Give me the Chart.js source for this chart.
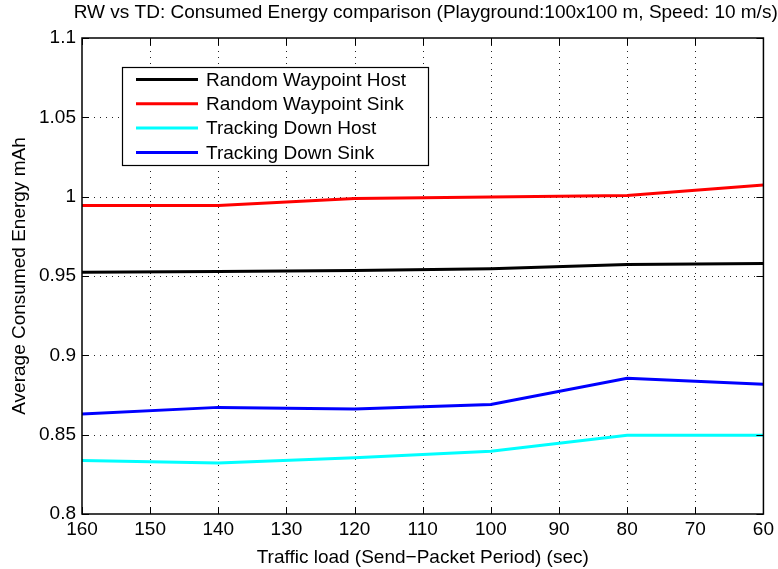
<!DOCTYPE html>
<html>
<head>
<meta charset="utf-8">
<script src="https://cdn.jsdelivr.net/npm/chart.js@4.4.1/dist/chart.umd.min.js"></script>
<style>
  html, body { margin: 0; padding: 0; background: #fff; }
  #wrap { width: 778px; height: 569px; position: relative; }
</style>
</head>
<body>
<div id="wrap"><canvas id="c" width="778" height="569"></canvas></div>
<script>
// ---- data ----
const periods = [160, 140, 120, 100, 80, 60];
const rwHost = [0.9524, 0.9528, 0.9535, 0.9545, 0.9573, 0.9578];
const rwSink = [0.9945, 0.9945, 0.9988, 0.9998, 1.0008, 1.0073];
const tdHost = [0.8337, 0.8322, 0.8355, 0.8396, 0.8496, 0.8496];
const tdSink = [0.8631, 0.8672, 0.8662, 0.8690, 0.8855, 0.8818];
const seriesNames = ['Random Waypoint Host', 'Random Waypoint Sink', 'Tracking Down Host', 'Tracking Down Sink'];
const xTicks = [160, 150, 140, 130, 120, 110, 100, 90, 80, 70, 60];
const yTicks = [0.8, 0.85, 0.9, 0.95, 1, 1.05, 1.1];
const yTickLabels = ['0.8', '0.85', '0.9', '0.95', '1', '1.05', '1.1'];
const titleText = 'RW vs TD: Consumed Energy comparison (Playground:100x100 m, Speed: 10 m/s)';
const xTitle = 'Traffic load (Send\u2212Packet Period) (sec)';
const yTitle = 'Average Consumed Energy mAh';

const FONT = '"Liberation Sans", Arial, Helvetica, sans-serif';
const FS = 19;
const colors = ['#000000', '#ff0000', '#00ffff', '#0000ff'];
const series = [rwHost, rwSink, tdHost, tdSink];

const toPts = arr => periods.map((p, i) => ({ x: p, y: arr[i] }));

const datasets = series.map((s, i) => ({
  label: seriesNames[i],
  data: toPts(s),
  borderColor: colors[i],
  backgroundColor: colors[i],
  borderWidth: 3,
  pointRadius: 0,
  tension: 0,
  fill: false
}));

const gridPlugin = {
  id: 'dottedGrid',
  beforeDatasetsDraw(chart) {
    const { ctx, chartArea: a, scales } = chart;
    ctx.save();
    ctx.strokeStyle = '#222';
    ctx.lineWidth = 1;
    ctx.setLineDash([1, 5]);
    ctx.beginPath();
    xTicks.forEach(v => {
      const x = Math.round(scales.x.getPixelForValue(v)) + 0.5;
      if (x <= a.left + 1 || x >= a.right - 1) return;
      ctx.moveTo(x, a.bottom); ctx.lineTo(x, a.top);
    });
    yTicks.forEach(v => {
      const y = Math.round(scales.y.getPixelForValue(v)) + 0.5;
      if (y <= a.top + 1 || y >= a.bottom - 1) return;
      ctx.moveTo(a.left, y); ctx.lineTo(a.right, y);
    });
    ctx.stroke();
    ctx.restore();
  }
};

const frame = {
  id: 'frame',
  afterDraw(chart) {
    const { ctx, chartArea: a, scales } = chart;
    ctx.save();
    // inner ticks
    ctx.strokeStyle = '#000';
    ctx.lineWidth = 1;
    const tl = 7;
    ctx.beginPath();
    xTicks.forEach(v => {
      const x = Math.round(scales.x.getPixelForValue(v)) + 0.5;
      ctx.moveTo(x, a.bottom); ctx.lineTo(x, a.bottom - tl);
      ctx.moveTo(x, a.top); ctx.lineTo(x, a.top + tl);
    });
    yTicks.forEach(v => {
      const y = Math.round(scales.y.getPixelForValue(v)) + 0.5;
      ctx.moveTo(a.left, y); ctx.lineTo(a.left + tl, y);
      ctx.moveTo(a.right, y); ctx.lineTo(a.right - tl, y);
    });
    ctx.stroke();
    // box
    ctx.lineWidth = 1.5;
    ctx.strokeRect(a.left, a.top, a.right - a.left, a.bottom - a.top);
    // title
    ctx.fillStyle = '#000';
    ctx.font = FS + 'px ' + FONT;
    ctx.textAlign = 'center';
    ctx.textBaseline = 'middle';
    ctx.fillText(titleText, (a.left + a.right) / 2 + 3, 13);

    // legend
    const lx = 122, ly = 67, lw = 306, lh = 98;
    ctx.fillStyle = '#fff';
    ctx.fillRect(lx, ly, lw, lh);
    ctx.lineWidth = 1.2;
    ctx.strokeStyle = '#000';
    ctx.strokeRect(lx + 0.5, ly + 0.5, lw, lh);
    ctx.font = FS + 'px ' + FONT;
    ctx.textAlign = 'left';
    ctx.textBaseline = 'middle';
    chart.data.datasets.forEach((ds, i) => {
      const yy = ly + 12.5 + i * 24.3;
      ctx.strokeStyle = ds.borderColor;
      ctx.lineWidth = 3;
      ctx.beginPath();
      ctx.moveTo(lx + 14, yy); ctx.lineTo(lx + 76, yy);
      ctx.stroke();
      ctx.fillStyle = '#000';
      ctx.fillText(ds.label, lx + 84, yy + 1);
    });
    ctx.restore();
  }
};

new Chart(document.getElementById('c'), {
  type: 'line',
  data: { datasets },
  options: {
    responsive: false,
    animation: false,
    devicePixelRatio: 1,
    layout: { padding: { top: 38, right: 14, left: 6, bottom: 0 } },
    plugins: { legend: { display: false }, tooltip: { enabled: false }, title: { display: false } },
    scales: {
      x: {
        type: 'linear',
        reverse: true,
        min: 60, max: 160,
        afterBuildTicks(scale) { scale.ticks = xTicks.map(v => ({ value: v })); },
        ticks: { color: '#000', font: { size: FS, family: FONT }, padding: 4, maxRotation: 0, autoSkip: false,
                 callback: v => String(v) },
        grid: { display: false, drawTicks: false },
        border: { display: false },
        title: { display: true, text: xTitle, color: '#000', font: { size: FS, family: FONT }, padding: { top: 0, bottom: 0 } },
        afterFit(scale) { scale.height = 55; }
      },
      y: {
        type: 'linear',
        min: 0.8, max: 1.1,
        afterBuildTicks(scale) { scale.ticks = yTicks.map(v => ({ value: v })); },
        ticks: { color: '#000', font: { size: FS, family: FONT }, padding: 6, autoSkip: false,
                 callback: v => { const i = yTicks.findIndex(t => Math.abs(t - v) < 1e-9); return i >= 0 ? yTickLabels[i] : ''; } },
        grid: { display: false, drawTicks: false },
        border: { display: false },
        title: { display: true, text: yTitle, color: '#000', font: { size: FS, family: FONT }, padding: { top: 2, bottom: 0 } },
        afterFit(scale) { scale.width = 76; }
      }
    }
  },
  plugins: [gridPlugin, frame]
});
</script>
</body>
</html>
